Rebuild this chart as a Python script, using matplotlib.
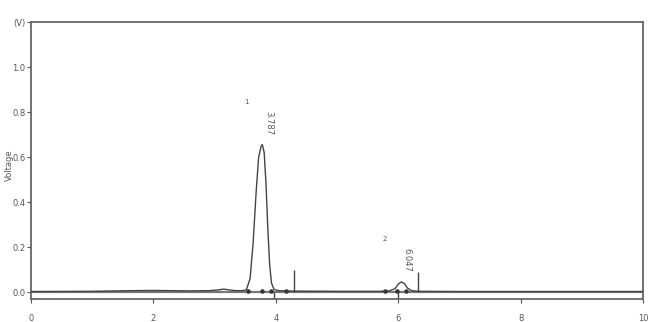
import matplotlib.pyplot as plt

# chromatogram trace (time in min, signal in V)
t = [0.0, 1.0, 1.6, 2.0, 2.6, 2.9, 3.05, 3.15, 3.25, 3.35, 3.45, 3.52,
     3.58, 3.63, 3.68, 3.72, 3.76, 3.78, 3.81, 3.84, 3.87, 3.9, 3.93,
     3.97, 4.05, 4.3, 5.0, 5.7, 5.85, 5.95, 6.0, 6.05, 6.1, 6.15, 6.22,
     6.35, 7.0, 8.0, 9.0, 10.0]
v = [0.002, 0.003, 0.006, 0.007, 0.005, 0.006, 0.009, 0.013, 0.009, 0.006,
     0.006, 0.01, 0.06, 0.22, 0.45, 0.6, 0.648, 0.655, 0.62, 0.48, 0.28,
     0.12, 0.04, 0.012, 0.006, 0.004, 0.003, 0.003, 0.005, 0.015, 0.035,
     0.045, 0.038, 0.018, 0.006, 0.003, 0.002, 0.002, 0.002, 0.002]

peak_ids = ["1", "2"]
peak_rt = ["3.787", "6.047"]
peak_t = [3.787, 6.047]
peak_h = [0.655, 0.045]

# integration marks (baseline dots, end lines)
dot_t = [3.55, 3.78, 3.92, 4.17, 5.78, 5.98, 6.12]
dot_v = [0.004, 0.004, 0.004, 0.004, 0.004, 0.004, 0.004]
end_t = [4.3, 6.33]
end_h = [0.1, 0.09]
drop_t = [3.97, 6.0]

xticks = [0, 2, 4, 6, 8, 10]
yticks = [0.0, 0.2, 0.4, 0.6, 0.8, 1.0, 1.2]
ylabels = ["0.0", "0.2", "0.4", "0.6", "0.8", "1.0", "(V)"]

col = "#555555"
fig = plt.figure(figsize=(6.5, 3.22), dpi=100)
ax = fig.add_axes([31 / 650, 1 - 299 / 322, 612 / 650, 277 / 322])

ax.axhline(0, color="#777777", lw=1.6, zorder=1)
ax.plot(t, v, color="#444444", lw=1.0, zorder=3)
ax.scatter(dot_t, dot_v, s=5, color="#333333", zorder=4)
ax.vlines(end_t, 0, end_h, color="#444444", lw=1.0)
ax.vlines(drop_t, -0.03, 0, color="#444444", lw=1.0)

for i in range(len(peak_ids)):
    ax.text(peak_t[i] - 0.27, peak_h[i] + 0.19, peak_ids[i], fontsize=5,
            color=col, ha="center", va="center")
    ax.text(peak_t[i] + 0.1, peak_h[i] + 0.15, peak_rt[i], fontsize=6,
            color=col, rotation=-90, ha="center", va="top")

ax.set_xlim(0, 10)
ax.set_ylim(-0.031, 1.2)
ax.set_xticks(xticks)
ax.set_xticklabels([str(x) for x in xticks])
ax.set_yticks(yticks)
ax.set_yticklabels(ylabels)
ax.tick_params(labelsize=6, colors=col, length=3, width=0.8, pad=8)
ax.tick_params(axis="y", pad=1)
fig.text(9 / 650, 1 - 165 / 322, "Voltage", fontsize=6, color=col,
         rotation=90, ha="center", va="center")
for s in ax.spines.values():
    s.set_color("#666666")
    s.set_linewidth(1.3)

fig.savefig("out.png", dpi=100)
